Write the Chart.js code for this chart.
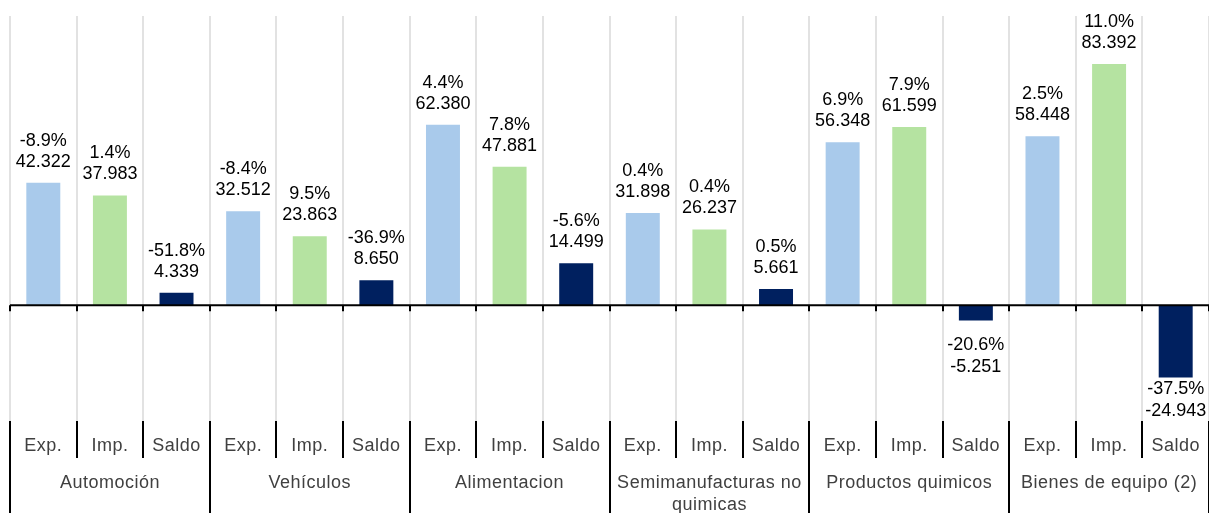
<!DOCTYPE html>
<html>
<head>
    <meta charset="utf-8" />
    <title>Comercio por sectores</title>
    <script src="https://cdn.jsdelivr.net/npm/chart.js"></script>
    <style>
        body { margin: 0; background: #fff; }
        canvas { display: block; }
    </style>
</head>
<body>
    <canvas id="myChart" width="1209" height="513"></canvas>
    <script>
        // data
        var groups = ['Automoción', 'Vehículos', 'Alimentacion', 'Semimanufacturas no|quimicas', 'Productos quimicos', 'Bienes de equipo (2)'];
        var subLabels = ['Exp.', 'Imp.', 'Saldo'];
        var values = [42.322, 37.983, 4.339, 32.512, 23.863, 8.650, 62.380, 47.881, 14.499,
                      31.898, 26.237, 5.661, 56.348, 61.599, -5.251, 58.448, 83.392, -24.943];
        var changes = ['-8.9%', '1.4%', '-51.8%', '-8.4%', '9.5%', '-36.9%', '4.4%', '7.8%', '-5.6%',
                       '0.4%', '0.4%', '0.5%', '6.9%', '7.9%', '-20.6%', '2.5%', '11.0%', '-37.5%'];
        var colors = ['#A9CAEB', '#B5E3A1', '#00205F'];

        var labels = [];
        var barColors = [];
        groups.forEach(function (g) {
            subLabels.forEach(function (s, i) {
                labels.push(s);
                barColors.push(colors[i]);
            });
        });

        var fmt = function (v) { return v.toFixed(3); };

        var decoPlugin = {
            id: 'deco',
            beforeDatasetsDraw: function (chart) {
                var ctx = chart.ctx, a = chart.chartArea;
                var n = labels.length, w = (a.right - a.left) / n;
                ctx.save();
                ctx.strokeStyle = '#D9D9D9';
                ctx.lineWidth = 1.5;
                for (var i = 0; i <= n; i++) {
                    var x = Math.round(a.left + i * w);
                    ctx.beginPath(); ctx.moveTo(x, a.top); ctx.lineTo(x, a.bottom); ctx.stroke();
                }
                ctx.restore();
            },
            afterDatasetsDraw: function (chart) {
                var ctx = chart.ctx, a = chart.chartArea;
                var y = chart.scales.y, xs = chart.scales.x;
                var n = labels.length, w = (a.right - a.left) / n;
                var y0 = y.getPixelForValue(0);
                ctx.save();
                // zero line + ticks
                ctx.strokeStyle = '#000';
                ctx.lineWidth = 2;
                ctx.beginPath(); ctx.moveTo(a.left, y0); ctx.lineTo(a.right, y0); ctx.stroke();
                for (var i = 0; i <= n; i++) {
                    var x = Math.round(a.left + i * w);
                    ctx.beginPath(); ctx.moveTo(x, y0); ctx.lineTo(x, y0 + 6); ctx.stroke();
                    ctx.beginPath(); ctx.moveTo(x, a.bottom); ctx.lineTo(x, i % 3 === 0 ? 513 : a.bottom + 37); ctx.stroke();
                }
                // value labels
                ctx.fillStyle = '#000';
                ctx.font = '18px "Liberation Sans", Arial, sans-serif';
                ctx.textAlign = 'center';
                ctx.textBaseline = 'alphabetic';
                var meta = chart.getDatasetMeta(0);
                meta.data.forEach(function (bar, i) {
                    var v = values[i];
                    if (v >= 0) {
                        ctx.fillText(fmt(v), bar.x, bar.y - 16);
                        ctx.fillText(changes[i], bar.x, bar.y - 37);
                    } else {
                        var b1 = Math.min(bar.y + 30, 394);
                        ctx.fillText(changes[i], bar.x, b1);
                        ctx.fillText(fmt(v), bar.x, b1 + 22);
                    }
                });
                // category labels
                ctx.fillStyle = '#404040';
                ctx.font = '18px "Liberation Sans", Arial, sans-serif';
                ctx.letterSpacing = '0.5px';
                ctx.textBaseline = 'middle';
                labels.forEach(function (l, i) {
                    ctx.fillText(l, xs.getPixelForValue(i), 446);
                });
                groups.forEach(function (g, gi) {
                    var cx = (xs.getPixelForValue(gi * 3) + xs.getPixelForValue(gi * 3 + 2)) / 2;
                    g.split('|').forEach(function (line, li) {
                        ctx.fillText(line, cx, 483 + li * 22);
                    });
                });
                ctx.restore();
            }
        };

        var ctx = document.getElementById('myChart').getContext('2d');
        var myChart = new Chart(ctx, {
            type: 'bar',
            data: {
                labels: labels,
                datasets: [{
                    data: values,
                    backgroundColor: barColors,
                    borderWidth: 0,
                    barPercentage: 0.51,
                    categoryPercentage: 1
                }]
            },
            options: {
                responsive: false,
                animation: false,
                layout: { padding: { left: 10, right: 0, top: 16, bottom: 92 } },
                plugins: { legend: { display: false }, tooltip: { enabled: false } },
                scales: {
                    x: { display: false },
                    y: { display: false, min: -40, max: 100 }
                }
            },
            plugins: [decoPlugin]
        });
    </script>
</body>
</html>
